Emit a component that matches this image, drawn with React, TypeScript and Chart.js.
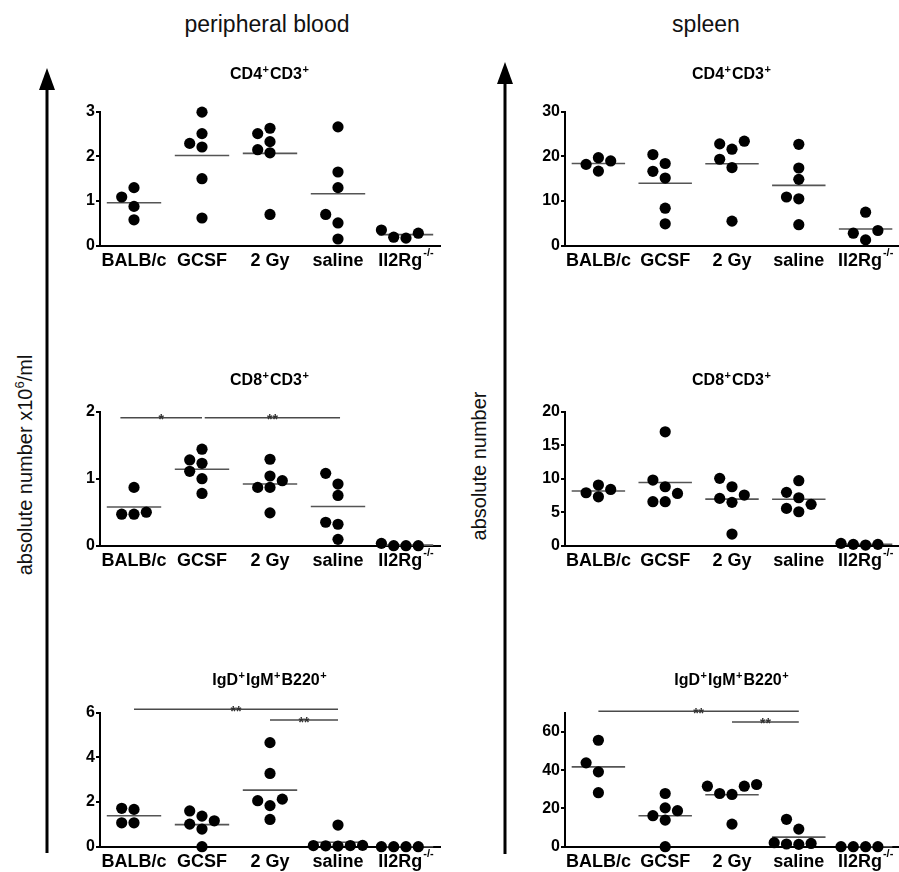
import React, { useEffect, useRef } from 'react';
import { Chart, registerables } from 'chart.js';

Chart.register(...registerables);

// ---------- DATA ----------
const categories = ['BALB/c', 'GCSF', '2 Gy', 'saline', 'Il2Rg'];
const categorySup = ['', '', '', '', '-/-'];

// peripheral blood, CD4+CD3+ (x10^6/ml)
const pbCD4 = [
  [1.09, 1.3, 0.88, 0.58],
  [2.99, 2.51, 2.21, 2.29, 1.5, 0.62],
  [2.15, 2.51, 2.63, 2.33, 2.08, 0.7],
  [2.66, 1.65, 1.3, 0.7, 0.51, 0.15],
  [0.28, 0.17, 0.35, 0.19],
];
// spleen, CD4+CD3+
const spCD4 = [
  [18.98, 16.7, 19.7, 18.2],
  [20.4, 18.4, 16.65, 15.15, 8.4, 4.9],
  [23.4, 21.6, 22.8, 19.35, 17.5, 5.5],
  [22.7, 17.4, 14.85, 10.9, 10.5, 4.7],
  [7.5, 3.4, 2.8, 1.3],
];
// peripheral blood, CD8+CD3+
const pbCD8 = [
  [0.87, 0.5, 0.47, 0.47],
  [1.44, 1.23, 1.28, 1.11, 1.0, 0.78],
  [1.29, 1.04, 0.97, 0.87, 0.87, 0.49],
  [1.08, 0.92, 0.75, 0.35, 0.32, 0.095],
  [0, 0, 0.035, 0],
];
// spleen, CD8+CD3+
const spCD8 = [
  [8.4, 9.05, 7.3, 7.9],
  [17.0, 9.8, 8.8, 7.8, 6.57, 6.57],
  [10.05, 8.8, 7.56, 7.06, 6.47, 1.74],
  [9.7, 7.96, 7.16, 6.17, 5.07, 5.57],
  [0.2, 0.2, 0.35, 0.1],
];
// peripheral blood, IgD+IgM+B220+
const pbB = [
  [1.72, 1.67, 1.07, 1.07],
  [1.01, 1.37, 1.6, 1.16, 0.79, 0],
  [4.66, 3.28, 2.06, 2.13, 1.84, 1.22],
  [0.97, 0.05, 0.03, 0.06, 0.04, 0.05],
  [0, 0, 0, 0],
];
// spleen, IgD+IgM+B220+
const spB = [
  [55.6, 43.8, 39.1, 28.2],
  [27.8, 20.3, 16.2, 18.8, 13.9, 0],
  [27.8, 31.6, 32.5, 31.6, 27.3, 11.8],
  [14.3, 9.2, 2.1, 1.2, 1.7, 1.4],
  [0, 0, 0, 0],
];

// significance brackets (category index range, y value, label)
const pbCD8Sig = [
  { from: -0.2, to: 1.0, y: 1.91, label: '*' },
  { from: 1.04, to: 3.03, y: 1.91, label: '**' },
];
const pbBSig = [
  { from: 0, to: 3, y: 6.15, label: '**' },
  { from: 2, to: 3, y: 5.67, label: '**' },
];
const spBSig = [
  { from: 0, to: 3, y: 70.8, label: '**' },
  { from: 2, to: 3, y: 65.2, label: '**' },
];

const yMaxes = [3, 30, 2, 20, 6, 70];
const ySteps = [1, 10, 1, 5, 2, 20];
const titles = ['CD4|+|CD3|+', 'CD4|+|CD3|+', 'CD8|+|CD3|+', 'CD8|+|CD3|+', 'IgD|+|IgM|+|B220|+', 'IgD|+|IgM|+|B220|+'];

const panels = [
  { col: 0, row: 0, data: pbCD4, sig: [] as any[] },
  { col: 1, row: 0, data: spCD4, sig: [] as any[] },
  { col: 0, row: 1, data: pbCD8, sig: pbCD8Sig },
  { col: 1, row: 1, data: spCD8, sig: [] as any[] },
  { col: 0, row: 2, data: pbB, sig: pbBSig },
  { col: 1, row: 2, data: spB, sig: spBSig },
];

// ---------- LAYOUT ----------
const FONT = "'Liberation Sans', Arial, Helvetica, sans-serif";
const COLS = [
  { left: 55, width: 395, yw: 45, padRight: 10 },
  { left: 520, width: 379, yw: 45, padRight: 0 },
];
const ROWS = [
  { top: 45, height: 230, areaTop: 111.7, areaBottom: 245.7, titleY: 79 },
  { top: 345, height: 230, areaTop: 411.7, areaBottom: 545.7, titleY: 385 },
  { top: 645, height: 227, areaTop: 712.7, areaBottom: 846.7, titleY: 685 },
];
const DOT_R = 5.6;
const DOT_STEP = 12.3;

function swarm(vals: number[], yMax: number, pxH: number, pxCat: number) {
  const pxPerY = pxH / yMax;
  const diam = DOT_R * 2;
  const order = vals.map((_, i) => i).sort((a, b) => vals[a] - vals[b]);
  const placed: { dx: number; y: number }[] = [];
  const offs = new Array(vals.length).fill(0);
  for (const i of order) {
    const yp = vals[i] * pxPerY;
    for (const k of [0, -1, 1, -2, 2, -3, 3]) {
      const dxp = k * DOT_STEP;
      const ok = placed.every((p) => Math.hypot(p.dx - dxp, p.y - yp) >= diam - 0.3);
      if (ok) {
        offs[i] = dxp / pxCat;
        placed.push({ dx: dxp, y: yp });
        break;
      }
    }
  }
  return offs;
}

const decor = {
  id: 'decor',
  afterDraw(chart: any, _args: any, opts: any) {
    const { ctx, chartArea, scales } = chart;
    const xs = scales.x;
    const ys = scales.y;
    ctx.save();
    ctx.fillStyle = '#000';
    ctx.textBaseline = 'alphabetic';
    ctx.textAlign = 'left';
    // category labels with optional superscript
    categories.forEach((lab, i) => {
      const sup = categorySup[i];
      ctx.font = `bold 18px ${FONT}`;
      const w1 = ctx.measureText(lab).width;
      ctx.font = `bold 11px ${FONT}`;
      const w2 = sup ? ctx.measureText(sup).width + 1 : 0;
      const cx = xs.getPixelForValue(i);
      const x0 = cx - (w1 + w2) / 2;
      ctx.font = `bold 18px ${FONT}`;
      ctx.fillText(lab, x0, chartArea.bottom + 20);
      if (sup) {
        ctx.font = `bold 11px ${FONT}`;
        ctx.fillText(sup, x0 + w1 + 1, chartArea.bottom + 10);
      }
    });
    // title with superscripts
    const segs = String(opts.title).split('|');
    const mainF = `bold 16px ${FONT}`;
    const supF = `bold 11px ${FONT}`;
    let total = 0;
    const widths = segs.map((s, i) => {
      ctx.font = i % 2 ? supF : mainF;
      const w = ctx.measureText(s).width + (i % 2 ? 1.5 : 0);
      total += w;
      return w;
    });
    let tx = (chartArea.left + chartArea.right) / 2 - total / 2;
    segs.forEach((s, i) => {
      ctx.font = i % 2 ? supF : mainF;
      ctx.fillText(s, tx + (i % 2 ? 0.5 : 0), opts.titleY - (i % 2 ? 6 : 0));
      tx += widths[i];
    });
    // significance brackets
    (opts.sig || []).forEach((s: any) => {
      const x1 = xs.getPixelForValue(s.from);
      const x2 = xs.getPixelForValue(s.to);
      const y = ys.getPixelForValue(s.y);
      ctx.strokeStyle = '#4a4a4a';
      ctx.lineWidth = 1.5;
      ctx.beginPath();
      ctx.moveTo(x1, y);
      ctx.lineTo(x2, y);
      ctx.stroke();
      ctx.font = `bold 14px ${FONT}`;
      ctx.fillStyle = '#333';
      ctx.textAlign = 'center';
      ctx.fillText(s.label, (x1 + x2) / 2, y + 6.5);
      ctx.textAlign = 'left';
      ctx.fillStyle = '#000';
    });
    ctx.restore();
  },
};

function Panel({ idx }: { idx: number }) {
  const ref = useRef<HTMLCanvasElement>(null);
  const p = panels[idx];
  const col = COLS[p.col];
  const row = ROWS[p.row];
  useEffect(() => {
    const yMax = yMaxes[idx];
    const plotH = row.areaBottom - row.areaTop;
    const pxCat = (col.width - col.yw - col.padRight) / categories.length;
    const pts: { x: number; y: number }[] = [];
    p.data.forEach((vals, i) => {
      const offs = swarm(vals, yMax, plotH, pxCat);
      vals.forEach((v, j) => pts.push({ x: i + offs[j], y: v }));
    });
    const meanSets = p.data.map((vals, i) => {
      const m = vals.reduce((a, b) => a + b, 0) / vals.length;
      return {
        data: [
          { x: i - 0.4, y: m },
          { x: i + 0.4, y: m },
        ],
        showLine: true,
        borderColor: '#555',
        borderWidth: 1.6,
        pointRadius: 0,
        clip: false,
        order: 1,
      };
    });
    const xh = row.top + row.height - row.areaBottom;
    const chart = new Chart(ref.current as HTMLCanvasElement, {
      type: 'scatter',
      data: {
        datasets: [
          {
            data: pts,
            backgroundColor: '#000',
            borderColor: '#000',
            borderWidth: 0,
            pointRadius: DOT_R,
            pointHoverRadius: DOT_R,
            clip: false,
            order: 0,
          } as any,
          ...(meanSets as any[]),
        ],
      },
      options: {
        animation: false,
        responsive: false,
        maintainAspectRatio: false,
        events: [],
        layout: {
          autoPadding: false,
          padding: { top: row.areaTop - row.top, right: col.padRight, left: 0, bottom: 0 },
        },
        plugins: {
          legend: { display: false },
          tooltip: { enabled: false },
          decor: { title: titles[idx], titleY: row.titleY - row.top, sig: p.sig },
        } as any,
        scales: {
          x: {
            type: 'linear',
            min: -0.5,
            max: categories.length - 0.5,
            ticks: { display: false },
            grid: { display: false },
            border: { display: true, color: '#000', width: 2 },
            afterFit: (s: any) => {
              s.height = xh;
            },
          },
          y: {
            type: 'linear',
            min: 0,
            max: yMax,
            ticks: {
              stepSize: ySteps[idx],
              includeBounds: false,
              color: '#000',
              padding: 1,
              font: { family: FONT, size: 16, weight: 'bold' },
            },
            grid: {
              display: true,
              drawOnChartArea: false,
              drawTicks: true,
              tickLength: 4,
              color: '#000',
              lineWidth: 2,
            },
            border: { display: true, color: '#000', width: 2 },
            afterFit: (s: any) => {
              s.width = col.yw;
            },
          },
        } as any,
      },
      plugins: [decor],
    } as any);
    return () => chart.destroy();
  }, []);
  return (
    <canvas
      ref={ref}
      width={col.width}
      height={row.height}
      style={{ position: 'absolute', left: col.left, top: row.top, width: col.width, height: row.height }}
    />
  );
}

export default function App() {
  return (
    <div
      style={{
        position: 'absolute',
        left: 0,
        top: 0,
        width: 899,
        height: 872,
        background: '#fff',
        overflow: 'hidden',
      }}
    >
      <svg
        width={899}
        height={872}
        style={{ position: 'absolute', left: 0, top: 0 }}
        fontFamily={FONT}
      >
        <text x={267} y={31.5} fontSize={23} textAnchor="middle" fill="#111">
          peripheral blood
        </text>
        <text x={706} y={31.5} fontSize={23} textAnchor="middle" fill="#111">
          spleen
        </text>
        <line x1={47} y1={86} x2={47} y2={853} stroke="#000" strokeWidth={3} />
        <polygon points="47,68 39,90 55,90" fill="#000" />
        <line x1={505} y1={80} x2={505} y2={854} stroke="#000" strokeWidth={3} />
        <polygon points="505,62 497,84 513,84" fill="#000" />
        <text transform="translate(31.5,465) rotate(-90)" fontSize={20} textAnchor="middle" fill="#111">
          absolute number x10
          <tspan dy={-8} fontSize={13}>
            6
          </tspan>
          <tspan dy={8}>/ml</tspan>
        </text>
        <text transform="translate(486,466) rotate(-90)" fontSize={20} textAnchor="middle" fill="#111">
          absolute number
        </text>
      </svg>
      {panels.map((_, i) => (
        <Panel key={i} idx={i} />
      ))}
    </div>
  );
}
